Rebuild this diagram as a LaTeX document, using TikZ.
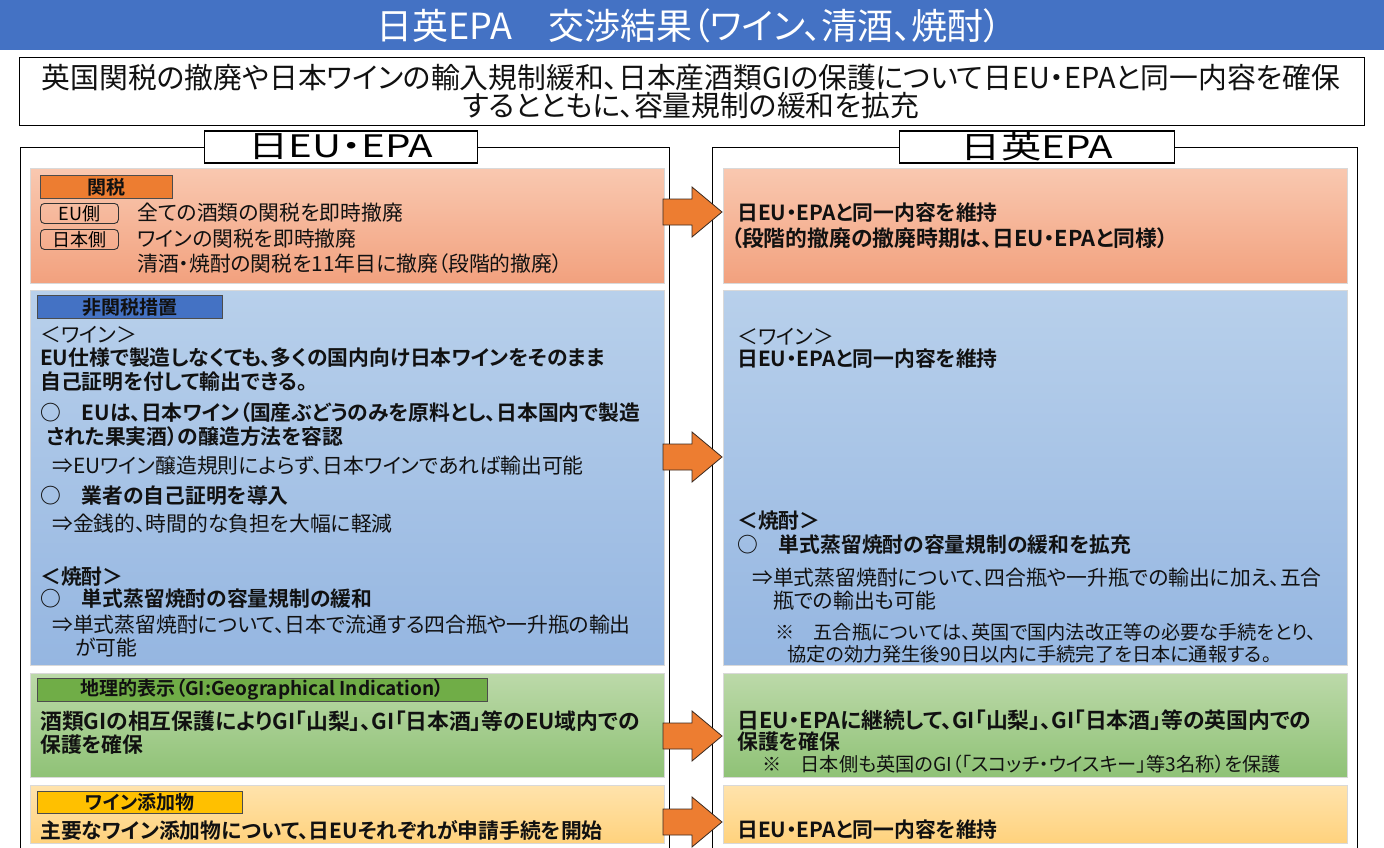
\documentclass[tikz,border=0pt]{standalone}
\usepackage{fontspec}
\setmainfont{Noto Sans CJK JP}[BoldFont={Noto Sans CJK JP Bold}, RawFeature=+palt]
\newfontfamily\hdrfont{Noto Sans CJK JP}[FakeStretch=1.3, RawFeature=+palt]
\newfontfamily\ttlfont{Noto Sans CJK JP}[RawFeature=+palt]
\definecolor{titleblue}{HTML}{4472C4}
\definecolor{labOrange}{HTML}{ED7D31}
\definecolor{labBlue}{HTML}{4472C4}
\definecolor{labGreen}{HTML}{70AD47}
\definecolor{labYellow}{HTML}{FFC000}
\definecolor{arrowFill}{HTML}{ED7D31}
\definecolor{arrowDraw}{HTML}{3A2A20}
\definecolor{txtc}{HTML}{111111}
\definecolor{orange1}{HTML}{F9C8B0}
\definecolor{orange2}{HTML}{F2A17E}
\definecolor{blue1}{HTML}{B8D0EB}
\definecolor{blue2}{HTML}{95B6E1}
\definecolor{green1}{HTML}{BCD9A9}
\definecolor{green2}{HTML}{8FC276}
\definecolor{yellow1}{HTML}{FFE3AC}
\definecolor{yellow2}{HTML}{FFD27D}
\tikzset{
  sec/.style={draw=white!85!black, line width=0.6pt, minimum width=634, anchor=north west, inner sep=0},
  orangesec/.style={sec, top color=orange1, bottom color=orange2},
  bluesec/.style={sec, top color=blue1, bottom color=blue2},
  greensec/.style={sec, top color=green1, bottom color=green2},
  yellowsec/.style={sec, top color=yellow1, bottom color=yellow2},
  panel/.style={draw=black, line width=1.2pt, anchor=north west, inner sep=0},
  hdr/.style={draw=black, line width=1.2pt, fill=white, inner sep=0, font=\hdrfont\fontsize{31}{33}\selectfont},
  lab/.style={anchor=north west, inner sep=0, line width=0.8pt, font=\bfseries\fontsize{19}{21}\selectfont, text=txtc},
  side/.style={draw=black!80, rounded corners=4pt, line width=0.9pt, minimum width=78, minimum height=20, inner sep=0, anchor=north west, font=\fontsize{18}{20}\selectfont},
  txt/.style={anchor=west, inner sep=0, text=txtc, font=\fontsize{20.8}{22}\selectfont},
  btxt/.style={txt, font=\bfseries\fontsize{20.8}{22}\selectfont},
  wtxt/.style={txt, font=\bfseries\fontsize{21.8}{23}\selectfont},
  stxt/.style={txt, font=\fontsize{19.2}{20}\selectfont},
  bigarrow/.style={fill=arrowFill, draw=arrowDraw, line width=0.8pt, line join=miter}
}
\begin{document}
\begin{tikzpicture}[x=1pt,y=-1pt]
\useasboundingbox[fill=white] (0,0) rectangle (1384,848);
% title
\node[fill=titleblue, minimum width=1384, minimum height=50, anchor=north west, inner sep=0] (title) at (0,0) {};
\node[text=white, font=\ttlfont\fontsize{36}{38}\selectfont] (titletext) at (689,26) {日英EPA　交渉結果（ワイン、清酒、焼酎）};
% subtitle
\node[draw=black, line width=1.2pt, fill=white, minimum width=1345, minimum height=68, anchor=north west, inner sep=0] (sub) at (19,57) {};
\node[font=\fontsize{28.8}{30}\selectfont, text=txtc] (sub1) at (691,78) {英国関税の撤廃や日本ワインの輸入規制緩和、日本産酒類GIの保護について日EU・EPAと同一内容を確保};
\node[font=\fontsize{28.8}{30}\selectfont, text=txtc] (sub2) at (691,106) {するとともに、容量規制の緩和を拡充};
% panels
\node[panel, minimum width=649, minimum height=702] (lpanel) at (20,147) {};
\node[panel, minimum width=645, minimum height=702] (rpanel) at (712,147) {};
\node[hdr, minimum width=273, minimum height=32] (lhdr) at (341,147) {日EU・EPA};
\node[hdr, minimum width=275, minimum height=32] (rhdr) at (1037,147) {日英EPA};
% sections left
\node[orangesec, minimum height=115] (lt) at (30,168) {};
\node[bluesec, minimum height=375] (lb) at (30,290) {};
\node[greensec, minimum height=104] (lg) at (30,673) {};
\node[yellowsec, minimum height=58] (ly) at (30,785) {};
% sections right
\node[orangesec, minimum width=624, minimum height=115] (rt) at (723,168) {};
\node[bluesec, minimum width=624, minimum height=375] (rb) at (723,290) {};
\node[greensec, minimum width=624, minimum height=104] (rg) at (723,673) {};
\node[yellowsec, minimum width=624, minimum height=58] (ry) at (723,785) {};
% arrows
\coordinate (a1) at (663,212);
\coordinate (a2) at (663,457);
\coordinate (a3) at (663,736);
\coordinate (a4) at (663,822);
\foreach \a in {a1,a2,a3,a4}{
  \draw[bigarrow] (\a) ++(0,-13) -- ++(29,0) -- ++(0,-12) -- ++(30,25) -- ++(-30,25) -- ++(0,-12) -- ++(-29,0) -- cycle;
}
% left tariff
\node[lab, fill=labOrange, draw=black!70, minimum width=132, minimum height=23] (labT) at (40,175) {関税};
\node[side] (eus) at (40,203) {EU側};
\node[side] (jps) at (40,229) {日本側};
\node[txt] (t1) at (137,213) {全ての酒類の関税を即時撤廃};
\node[txt] (t2) at (137,239) {ワインの関税を即時撤廃};
\node[txt] (t3) at (137,264) {清酒・焼酎の関税を11年目に撤廃（段階的撤廃）};
% left non-tariff
\node[lab, fill=labBlue, draw=black!70, minimum width=185, minimum height=23] (labN) at (37,295) {非関税措置};
\node[txt] (n1) at (40,335) {＜ワイン＞};
\node[btxt] (n2) at (40,358) {EU仕様で製造しなくても、多くの国内向け日本ワインをそのまま};
\node[btxt] (n3) at (40,382) {自己証明を付して輸出できる。};
\node[btxt] (n4) at (40,413) {○　EUは、日本ワイン（国産ぶどうのみを原料とし、日本国内で製造};
\node[btxt] (n5) at (46,437) {された果実酒）の醸造方法を容認};
\node[txt] (n6) at (52,466) {⇒EUワイン醸造規則によらず、日本ワインであれば輸出可能};
\node[btxt] (n7) at (40,496) {○　業者の自己証明を導入};
\node[txt] (n8) at (52,524) {⇒金銭的、時間的な負担を大幅に軽減};
\node[btxt] (n9) at (40,577) {＜焼酎＞};
\node[btxt] (n10) at (40,599) {○　単式蒸留焼酎の容量規制の緩和};
\node[txt] (n11) at (52,625) {⇒単式蒸留焼酎について、日本で流通する四合瓶や一升瓶の輸出};
\node[txt] (n12) at (75,648) {が可能};
% left GI
\node[lab, fill=labGreen, draw=black!70, minimum width=450, minimum height=23] (labG) at (37,678) {地理的表示（GI:Geographical Indication）};
\node[wtxt] (g1) at (40,721) {酒類GIの相互保護によりGI「山梨」、GI「日本酒」等のEU域内での};
\node[btxt] (g2) at (40,745) {保護を確保};
% left wine additive
\node[lab, fill=labYellow, draw=black!70, minimum width=205, minimum height=22] (labY) at (37,791) {ワイン添加物};
\node[btxt] (y1) at (40,830) {主要なワイン添加物について、日EUそれぞれが申請手続を開始};
% right tariff
\node[btxt] (rt1) at (737,213) {日EU・EPAと同一内容を維持};
\node[wtxt] (rt2) at (731,238) {（段階的撤廃の撤廃時期は、日EU・EPAと同様）};
% right non-tariff
\node[txt] (rn1) at (737,337) {＜ワイン＞};
\node[btxt] (rn2) at (737,359) {日EU・EPAと同一内容を維持};
\node[btxt] (rn3) at (737,521) {＜焼酎＞};
\node[btxt] (rn4) at (737,545) {○　単式蒸留焼酎の容量規制の緩和を拡充};
\node[txt] (rn5) at (752,578) {⇒単式蒸留焼酎について、四合瓶や一升瓶での輸出に加え、五合};
\node[txt] (rn6) at (773,601) {瓶での輸出も可能};
\node[stxt] (rn7) at (775,632) {※　五合瓶については、英国で国内法改正等の必要な手続をとり、};
\node[stxt] (rn8) at (787,654) {協定の効力発生後90日以内に手続完了を日本に通報する。};
% right GI
\node[wtxt] (rg1) at (737,720) {日EU・EPAに継続して、GI「山梨」、GI「日本酒」等の英国内での};
\node[btxt] (rg2) at (737,742) {保護を確保};
\node[stxt] (rg3) at (762,764) {※　日本側も英国のGI（「スコッチ・ウイスキー」等3名称）を保護};
% right wine additive
\node[btxt] (ry1) at (737,830) {日EU・EPAと同一内容を維持};
\end{tikzpicture}
\end{document}
